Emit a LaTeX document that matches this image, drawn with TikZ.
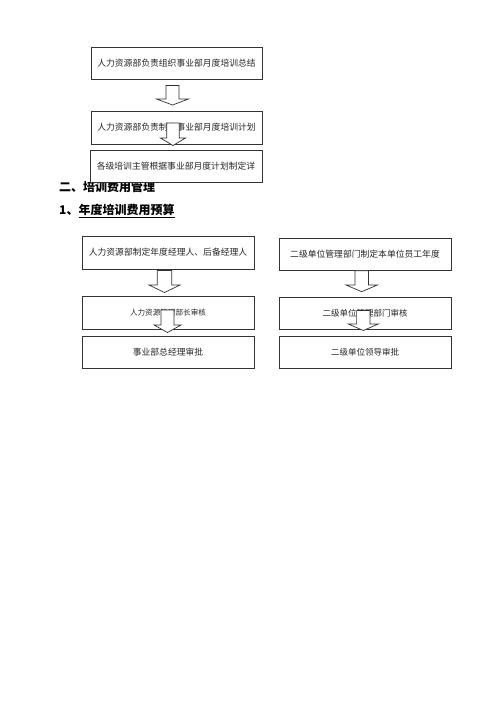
\documentclass[tikz,border=0pt]{standalone}
\usepackage{fontspec}
\setmainfont{Noto Sans CJK SC}
\begin{document}
\begin{tikzpicture}[x=1pt,y=-1pt,
  box/.style={draw=black!80, line width=0.7pt, fill=white, inner sep=0pt, text=black!85,
    font=\fontsize{8.8}{10}\selectfont},
  head/.style={anchor=west, inner sep=0pt, text=black, font=\fontsize{12}{14}\selectfont\bfseries},
  barrow/.style={draw=black!80, line width=0.7pt, fill=white, line join=miter}]
\useasboundingbox (0,0) rectangle (500,707);
\newcommand\blockarrow[6]{% cx, top, headstart, tip, shafthalf, headhalf
  \draw[barrow] ({#1-#5},#2) -- ({#1+#5},#2) -- ({#1+#5},#3) -- ({#1+#6},#3) -- (#1,#4)
    -- ({#1-#6},#3) -- ({#1-#5},#3) -- cycle;}
% upper chain
\node[box, minimum width=171, minimum height=32] (b1) at (176.5,63) {人力资源部负责组织事业部月度培训总结};
\blockarrow{172.5}{85.5}{99}{105}{6.5}{16}
\node[box, minimum width=171, minimum height=33] (b2) at (176.5,127.5) {人力资源部负责制定事业部月度培训计划};
\blockarrow{173}{123}{138}{145.5}{6.3}{12.5}
\node[head] (h1) at (59,186.5) {二、培训费用管理};
\node[box, minimum width=172, minimum height=32] (b3) at (176,166) {各级培训主管根据事业部月度计划制定详};
\node[head] (h2) at (59,211) {1、\underline{年度培训费用预算}};
% left chain
\node[box, minimum width=172, minimum height=33] (l1) at (168,252.5) {人力资源部制定年度经理人、后备经理人};
\blockarrow{164.5}{270.5}{285}{292.5}{7.3}{15.5}
\node[box, minimum width=172, minimum height=33, font=\fontsize{7.6}{9}\selectfont] (l2) at (168,313) {人力资源管理部长审核};
\blockarrow{167.5}{310}{325}{332.5}{6.5}{13.5}
\node[box, minimum width=172, minimum height=32] (l3) at (168,352.5) {事业部总经理审批};
% right chain
\node[box, minimum width=172, minimum height=32] (r1) at (365,254) {二级单位管理部门制定本单位员工年度};
\blockarrow{361.7}{270.7}{285}{291.7}{6.7}{15.7}
\node[box, minimum width=172, minimum height=32, font=\fontsize{8.5}{10}\selectfont] (r2) at (365,313.5) {二级单位管理部门审核};
\blockarrow{363.3}{310.5}{324}{330.5}{6.7}{15}
\node[box, minimum width=172, minimum height=32, font=\fontsize{8.5}{10}\selectfont] (r3) at (365,352.5) {二级单位领导审批};
\end{tikzpicture}
\end{document}
